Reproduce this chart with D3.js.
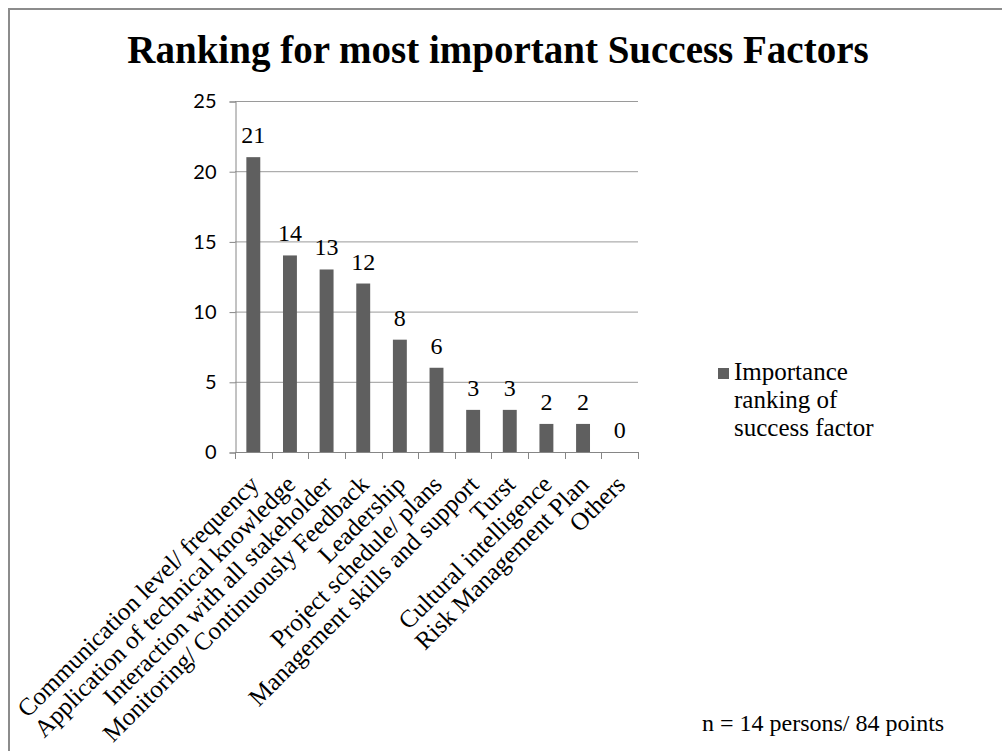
<!DOCTYPE html>
<html>
<head>
<meta charset="utf-8">
<script src="https://cdn.jsdelivr.net/npm/d3@7"></script>
<style>
  html, body { margin: 0; padding: 0; background: #fff; }
  svg { display: block; }
</style>
</head>
<body>
<div id="chart"></div>
<script>
// chart values
const categories = [
    "Communication level/ frequency",
    "Application of technical knowledge",
    "Interaction with all stakeholder",
    "Monitoring/ Continuously Feedback",
    "Leadership",
    "Project schedule/ plans",
    "Management skills and support",
    "Turst",
    "Cultural intelligence",
    "Risk Management Plan",
    "Others"
];
const values = [21, 14, 13, 12, 8, 6, 3, 3, 2, 2, 0];
const yTicks = [0, 5, 10, 15, 20, 25];
const seriesName = ["Importance", "ranking of", "success factor"];
const titleText = "Ranking for most important Success Factors";
const noteText = "n = 14 persons/ 84 points";

const W = 1002, H = 751;
const serif = "'Liberation Serif', 'Times New Roman', serif";
const barColor = "#5f5f5f";

const svg = d3.select("#chart").append("svg")
    .attr("width", W)
    .attr("height", H);

// outer frame (runs off the right/bottom edge)
svg.append("rect")
    .attr("x", 9).attr("y", 9)
    .attr("width", W + 20).attr("height", H + 20)
    .attr("fill", "none")
    .attr("stroke", "#8c8c8c")
    .attr("stroke-width", 2);

svg.append("text")
    .attr("x", 498).attr("y", 63)
    .attr("text-anchor", "middle")
    .style("font-family", serif)
    .style("font-weight", "bold")
    .style("font-size", "39px")
    .text(titleText);

const plot = { left: 235, right: 638, top: 101, bottom: 452 };

const x = d3.scaleBand()
    .domain(categories)
    .range([plot.left, plot.right])
    .paddingInner(0.62)
    .paddingOuter(0.31);

const y = d3.scaleLinear()
    .domain([0, 25])
    .range([plot.bottom, plot.top]);

// gridlines
svg.append("g")
    .selectAll("line")
    .data(yTicks.filter(d => d > 0))
    .enter().append("line")
    .attr("x1", plot.left).attr("x2", plot.right)
    .attr("y1", d => y(d) + 0.5).attr("y2", d => y(d) + 0.5)
    .attr("stroke", "#9a9a9a")
    .attr("stroke-width", 1);

// y axis
const yAxis = svg.append("g")
    .attr("transform", `translate(${plot.left + 0.5},0.5)`)
    .call(d3.axisLeft(y).tickValues(yTicks).tickSize(6).tickPadding(13));
yAxis.select(".domain").attr("stroke", "#868686");
yAxis.selectAll(".tick line").attr("stroke", "#868686");
yAxis.selectAll(".tick text")
    .style("font-family", "Lato, 'Liberation Sans', sans-serif")
    .style("font-size", "20px")
    .attr("fill", "#000");

// x axis: ticks sit on the band boundaries
const step = x.step();
const boundaries = d3.range(categories.length + 1).map(i => plot.left + i * step);
const xAxis = svg.append("g");
xAxis.append("line")
    .attr("x1", plot.left).attr("x2", plot.right)
    .attr("y1", plot.bottom + 0.5).attr("y2", plot.bottom + 0.5)
    .attr("stroke", "#868686");
xAxis.selectAll("line.tick")
    .data(boundaries)
    .enter().append("line")
    .attr("class", "tick")
    .attr("x1", d => Math.round(d) + 0.5).attr("x2", d => Math.round(d) + 0.5)
    .attr("y1", plot.bottom).attr("y2", plot.bottom + 7)
    .attr("stroke", "#868686");

// bars
svg.append("g")
    .selectAll("rect")
    .data(values)
    .enter().append("rect")
    .attr("x", (d, i) => x(categories[i]))
    .attr("y", d => y(d))
    .attr("width", x.bandwidth())
    .attr("height", d => y(0) - y(d))
    .attr("fill", barColor);

// data labels
svg.append("g")
    .selectAll("text")
    .data(values)
    .enter().append("text")
    .attr("x", (d, i) => x(categories[i]) + x.bandwidth() / 2)
    .attr("y", d => y(d) - 14)
    .attr("text-anchor", "middle")
    .style("font-family", serif)
    .style("font-size", "24px")
    .text(d => d);

// rotated category labels
svg.append("g")
    .selectAll("text")
    .data(categories)
    .enter().append("text")
    .attr("transform", d => `translate(${x(d) + x.bandwidth() / 2 + 7},${plot.bottom + 34}) rotate(-45)`)
    .attr("text-anchor", "end")
    .style("font-family", serif)
    .style("font-size", "25px")
    .text(d => d);

// legend
const legend = svg.append("g").attr("transform", "translate(718,368)");
legend.append("rect")
    .attr("width", 11).attr("height", 11)
    .attr("fill", barColor);
legend.append("text")
    .style("font-family", serif)
    .style("font-size", "25px")
    .selectAll("tspan")
    .data(seriesName)
    .enter().append("tspan")
    .attr("x", 16)
    .attr("y", (d, i) => 12 + i * 28)
    .text(d => d);

svg.append("text")
    .attr("x", 702).attr("y", 731)
    .style("font-family", serif)
    .style("font-size", "24px")
    .text(noteText);
</script>
</body>
</html>
